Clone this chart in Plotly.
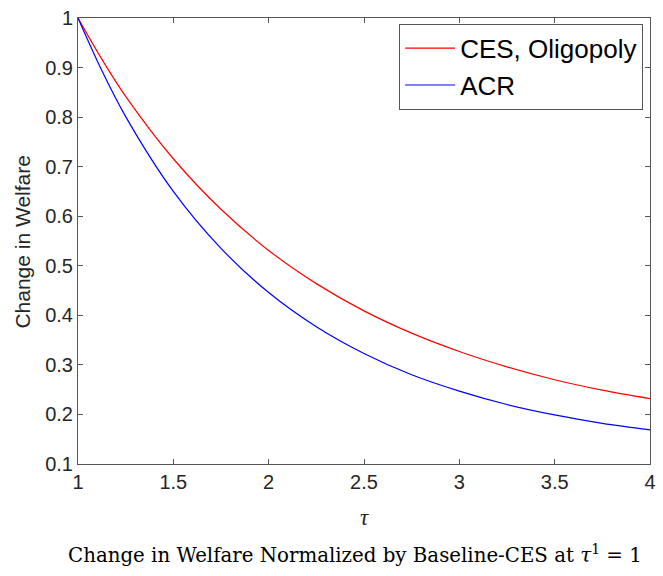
import plotly.graph_objects as go

tau = [1.0, 1.125, 1.25, 1.5, 1.75, 2.0, 2.25, 2.5, 2.75, 3.0, 3.25, 3.5, 3.75, 4.0]
ces_oligopoly = [1.0, 0.917, 0.842, 0.716, 0.614, 0.531, 0.464, 0.409, 0.364, 0.327, 0.296, 0.270, 0.249, 0.232]
acr = [1.0, 0.894, 0.801, 0.650, 0.535, 0.446, 0.377, 0.323, 0.280, 0.247, 0.220, 0.199, 0.182, 0.169]

x_ticks = [1, 1.5, 2, 2.5, 3, 3.5, 4]
x_tick_labels = ["1", "1.5", "2", "2.5", "3", "3.5", "4"]
y_ticks = [0.1, 0.2, 0.3, 0.4, 0.5, 0.6, 0.7, 0.8, 0.9, 1.0]
y_tick_labels = ["0.1", "0.2", "0.3", "0.4", "0.5", "0.6", "0.7", "0.8", "0.9", "1"]

fig = go.Figure()
fig.add_trace(go.Scatter(x=tau, y=ces_oligopoly, mode="lines", name="CES, Oligopoly",
                         line=dict(color="#ff0000", width=1.2, shape="spline")))
fig.add_trace(go.Scatter(x=tau, y=acr, mode="lines", name="ACR",
                         line=dict(color="#0000ff", width=1.2, shape="spline")))

axis_color = "#262626"
common = dict(showline=True, linecolor="#555555", linewidth=1, mirror="allticks",
              ticks="inside", ticklen=5, tickcolor="#555555", showgrid=False, zeroline=False,
              ticklabeloverflow="allow",
              tickfont=dict(family="Liberation Sans, Arial", size=20, color=axis_color))

fig.update_layout(
    width=663, height=576,
    margin=dict(l=78, r=7, t=10, b=112),
    paper_bgcolor="white", plot_bgcolor="white",
    xaxis=dict(range=[1, 4], tickvals=x_ticks, ticktext=x_tick_labels, **common),
    yaxis=dict(range=[0.1, 1], tickvals=y_ticks, ticktext=y_tick_labels, **common),
    legend=dict(x=0.988, y=0.987, xanchor="right", yanchor="top",
                bgcolor="white", bordercolor="#555555", borderwidth=1,
                font=dict(family="Liberation Sans, Arial", size=26, color="black"),
                tracegroupgap=0, itemwidth=50),
    showlegend=True,
)

fig.add_annotation(text="Change in Welfare", xref="paper", yref="paper",
                   x=-0.0967, y=0.498, textangle=-90, showarrow=False,
                   xanchor="center", yanchor="middle",
                   font=dict(family="Liberation Sans, Arial", size=21, color=axis_color))
fig.add_annotation(text="<i>τ</i>", xref="paper", yref="paper",
                   x=0.5, y=-0.1210, showarrow=False, xanchor="center", yanchor="middle",
                   font=dict(family="Liberation Serif, DejaVu Serif", size=23, color=axis_color))
fig.add_annotation(text="Change in Welfare Normalized by Baseline-CES at <i>τ</i><sup>1</sup> = 1",
                   xref="paper", yref="paper", x=0.4835, y=-0.2026, showarrow=False,
                   xanchor="center", yanchor="middle",
                   font=dict(family="DejaVu Serif, Liberation Serif", size=19.8, color="black"))

fig.write_html("out.html", config={"displayModeBar": False},
               post_script="document.body.style.margin='0';document.body.style.overflow='hidden';")
